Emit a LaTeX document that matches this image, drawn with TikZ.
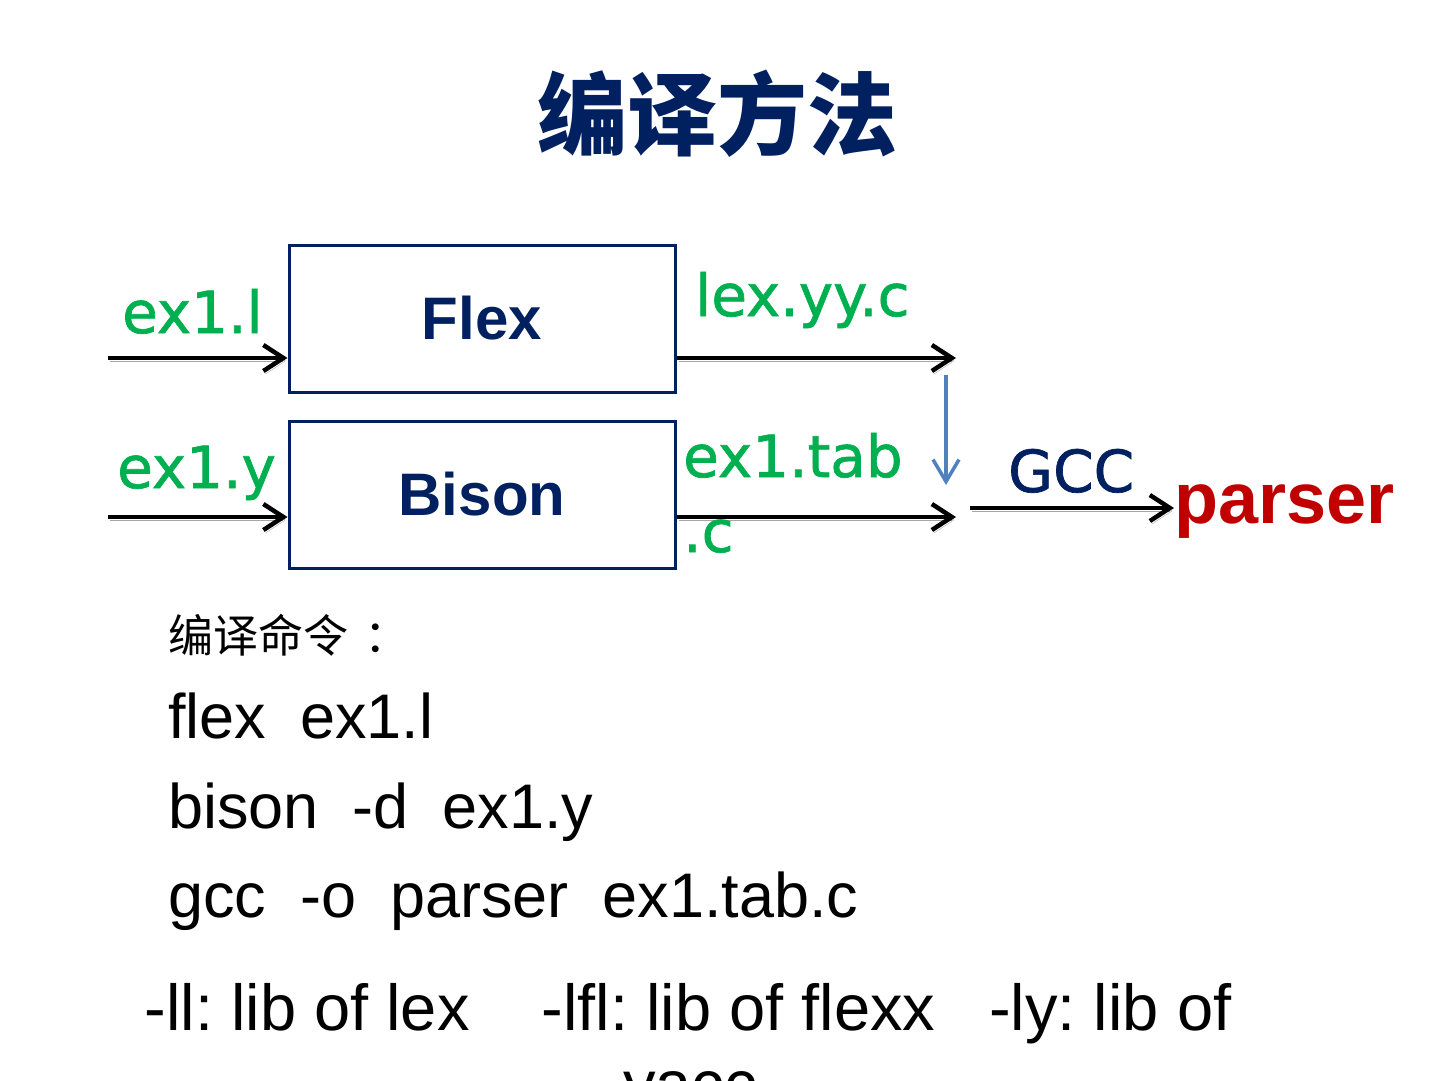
\documentclass[tikz,border=0pt]{standalone}
\usepackage{fontspec}
\setmainfont{Liberation Sans}
\newfontfamily\verdana[FakeBold=1.2]{DejaVu Sans}
\newfontfamily\cjk{Noto Sans CJK SC}
\usetikzlibrary{arrows.meta, positioning}
\definecolor{navy}{HTML}{002060}
\definecolor{fgreen}{HTML}{00B050}
\definecolor{fred}{HTML}{C00000}
\definecolor{steel}{HTML}{4F81BD}
\newcommand{\wordgap}{\hspace{34pt}}
\tikzset{
    toolbox/.style={rectangle, draw=navy, line width=3pt, minimum width=386pt, minimum height=147pt, inner sep=0pt, font=\fontsize{60}{70}\selectfont\bfseries, text=navy},
    flow/.style={line width=4.5pt, -{Straight Barb[length=20pt,width=26pt]}, preaction={draw=black!35, transform canvas={shift={(2pt,-3pt)}}}},
    fname/.style={anchor=base west, inner sep=0pt, font=\verdana\fontsize{58}{70}\selectfont, text=fgreen},
    cmd/.style={anchor=base west, inner sep=0pt, font=\fontsize{63}{70}\selectfont}
}
\begin{document}
\begin{tikzpicture}[x=1pt, y=-1pt,
    merge/.style={line width=3.5pt, draw=steel, -{Straight Barb[length=22pt,width=26pt]}}
]
    \path[use as bounding box, clip] (0,0) rectangle (1440,1080);

    % Title
    \node (title) [font=\cjk\bfseries\fontsize{90}{100}\selectfont, text=navy, inner sep=0pt] at (717,114) {编译方法};

    % Tools
    \node (flex) [toolbox] at (482,318.5) {Flex};
    \node (bison) [toolbox] at (482,494.5) {Bison};

    % Input and output files
    \coordinate (lexsrc) at (108,358);
    \coordinate (yaccsrc) at (108,517);
    \coordinate (lexdst) at (956,358);
    \coordinate (yaccdst) at (956,517);
    \draw [flow] (lexsrc) -- (lexsrc -| flex.west);
    \draw [flow] (yaccsrc) -- (yaccsrc -| bison.west);
    \draw [flow] (flex.east |- lexdst) -- (lexdst);
    \draw [flow] (bison.east |- yaccdst) -- (yaccdst);

    \node (lexin) [fname] at (122,333) {ex1.l};
    \node (yaccin) [fname] at (117,488) {ex1.y};
    \node (lexout) [fname] at (695,316) {lex.yy.c};
    \node (yaccout) [fname] at (683,477) {ex1.tab};
    \node (yaccext) [fname] at (683,552) {.c};

    % Both files go to gcc
    \coordinate (mergetop) at (946,375);
    \coordinate (mergebot) at (946,485);
    \draw [merge] (mergetop) -- (mergebot);

    \node (parser) [anchor=base west, inner sep=0pt, font=\fontsize{72}{80}\selectfont\bfseries, text=fred] at (1174,523) {parser};
    \coordinate (gccsrc) at (970,508);
    \draw [flow] (gccsrc) -- (gccsrc -| parser.west);
    \node (gcc) [fname, text=navy] at (1008,492) {GCC};

    % Commands
    \node (cmdhead) [anchor=west, inner sep=0pt, font=\cjk\fontsize{45}{50}\selectfont] at (168,635) {编译命令\hspace{16pt}：};
    \node (cmdflex) [cmd] at (168,738) {flex\wordgap ex1.l};
    \node (cmdbison) [cmd] at (168,828) {bison\wordgap -d\wordgap ex1.y};
    \node (cmdgcc) [cmd] at (168,917) {gcc\wordgap -o\wordgap parser\wordgap ex1.tab.c};

    % Libraries
    \node (libs) [anchor=base, inner sep=0pt, font=\frenchspacing\fontsize{65}{70}\selectfont] at (688,1030) {-ll: lib of lex\hspace{72pt}-lfl: lib of flexx\hspace{54pt}-ly: lib of};
    \node (libsmore) [anchor=base, inner sep=0pt, font=\fontsize{65}{70}\selectfont] at (690,1106) {yacc};

\end{tikzpicture}
\end{document}
